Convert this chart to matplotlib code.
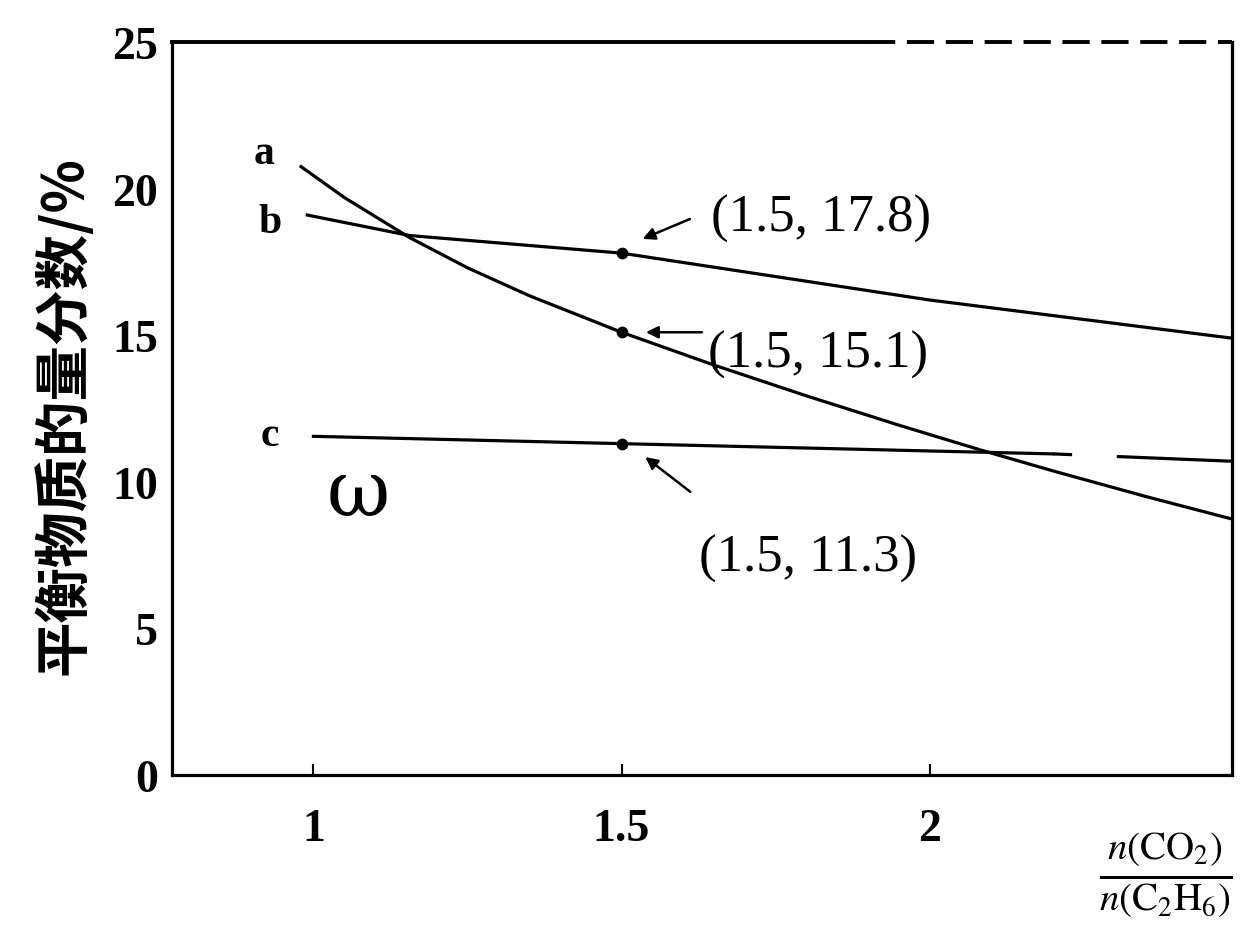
import numpy as np
from matplotlib import pyplot as plt

# ratio n(CO2)/n(C2H6) and equilibrium mole fraction (%)
a_x = [0.98, 1.05, 1.156, 1.25, 1.35, 1.5, 1.65, 1.8, 1.95, 2.08, 2.2, 2.35, 2.49]
a_y = [20.75, 19.7, 18.33, 17.3, 16.35, 15.1, 13.98, 12.93, 11.93, 11.1, 10.37, 9.5, 8.73]
b_x = [0.99, 1.156, 1.5, 2.0, 2.49]
b_y = [19.1, 18.4, 17.8, 16.2, 14.9]
c_x = [1.0, 1.5, 2.2, 2.49]
c_y = [11.55, 11.3, 10.95, 10.7]

pt_x = [1.5, 1.5, 1.5]
pt_y = [17.8, 15.1, 11.3]
pt_text = ["(1.5, 17.8)", "(1.5, 15.1)", "(1.5, 11.3)"]

xticks = [1, 1.5, 2]
yticks = [0, 5, 10, 15, 20, 25]

serif = "Liberation Serif"
plt.rcParams["mathtext.fontset"] = "stix"

fig = plt.figure(figsize=(12.53, 9.37), dpi=100)
ax = fig.add_axes([0.137, 0.172, 0.846, 0.782])

ax.plot(a_x, a_y, color="black", linewidth=2.3)
ax.plot(b_x, b_y, color="black", linewidth=2.3)
ax.plot(c_x[:3], c_y[:3], color="black", linewidth=2.3)
ax.plot(c_x[2:], c_y[2:], color="black", linewidth=2.3, linestyle=(0, (6, 14, 60, 1)))
ax.scatter(pt_x, pt_y, color="black", s=55, zorder=3)

# labels a, b, c and the handwritten mark
ax.text(0.92, 21.2, "a", fontsize=30, family=serif, weight="bold", ha="center", va="center")
ax.text(0.93, 18.85, "b", fontsize=30, family=serif, weight="bold", ha="center", va="center")
ax.text(0.93, 11.6, "c", fontsize=30, family=serif, weight="bold", ha="center", va="center")
ax.text(1.073, 9.6, "ω", fontsize=56, family="DejaVu Serif", ha="center", va="center")

# point annotations
ap = dict(arrowstyle="-|>", color="black", linewidth=1.8, mutation_scale=18)
ax.annotate("", xy=(1.53, 18.25), xytext=(1.615, 19.0), arrowprops=ap)
ax.text(1.645, 19.0, pt_text[0], fontsize=38, family=serif, va="center")
ax.annotate("", xy=(1.535, 15.1), xytext=(1.635, 15.1), arrowprops=ap)
ax.text(1.64, 14.35, pt_text[1], fontsize=38, family=serif, va="center")
ax.annotate("", xy=(1.535, 10.9), xytext=(1.615, 9.6), arrowprops=ap)
ax.text(1.625, 7.4, pt_text[2], fontsize=38, family=serif, va="center")

ax.set_xlim(0.77, 2.49)
ax.set_ylim(0, 25)
ax.set_xticks(xticks)
ax.set_xticklabels(["1", "1.5", "2"])
ax.set_yticks(yticks)
ax.tick_params(axis="x", direction="in", length=8, width=1.5, pad=24, labelsize=33)
ax.tick_params(axis="y", length=0, pad=10, labelsize=33)
for lab in ax.get_xticklabels() + ax.get_yticklabels():
    lab.set_family(serif)
    lab.set_weight("bold")

for s in ["left", "bottom", "right"]:
    ax.spines[s].set_linewidth(2.3)
ax.spines["top"].set_visible(False)
ax.plot([0.77, 1.9], [25, 25], color="black", linewidth=2.8, clip_on=False)
ax.plot([1.9, 2.49], [25, 25], color="black", linewidth=2.8, linestyle=(0, (7, 3)), clip_on=False)

fig.text(0.05, 0.557, "平衡物质的量分数/%", rotation=90, fontsize=40, weight="bold",
         family=["Noto Sans CJK SC", "DejaVu Sans"], ha="center", va="center")
fig.text(0.93, 0.066, r"$\frac{n(\mathrm{CO_2})}{n(\mathrm{C_2H_6})}$", fontsize=40,
         ha="center", va="center")

plt.savefig("out.png", dpi=100)
